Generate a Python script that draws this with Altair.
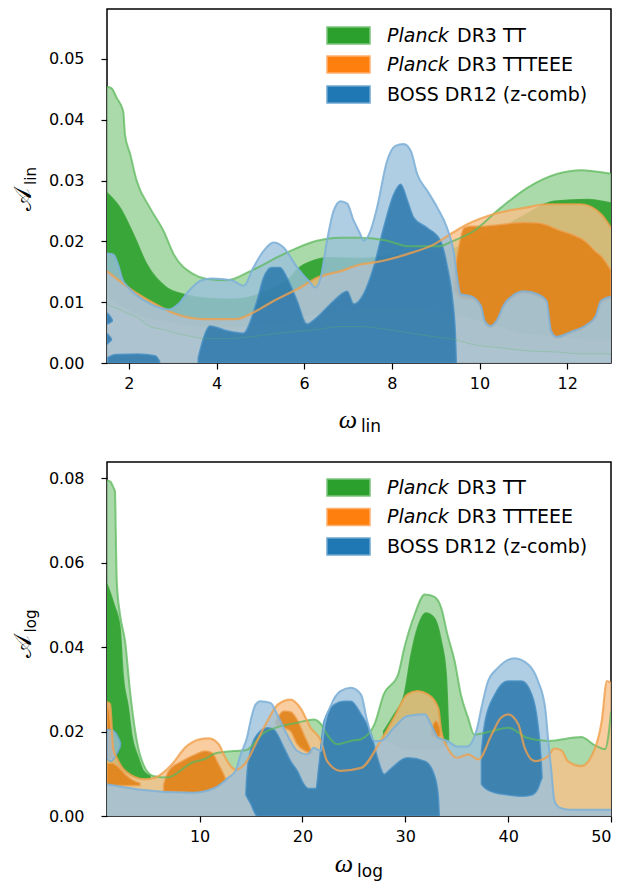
import altair as alt
import pandas as pd

# ================= TOP PANEL: A_lin vs omega_lin =================
# Planck DR3 TT (green) outer contour
lin_g2_x = [1.5, 1.6, 1.72, 1.87, 1.91, 2.03, 2.18, 2.48, 2.79, 3.02, 3.47, 3.78, 4.24, 4.77, 5.53, 6.29, 6.83, 7.28, 7.9, 8.36, 9.1, 9.34, 9.87, 10.48, 11.09, 11.78, 12.31, 13.0]
lin_g2_hi = [0.0454, 0.0452, 0.0436, 0.0414, 0.0376, 0.0343, 0.0299, 0.0255, 0.0217, 0.0179, 0.0146, 0.0138, 0.0136, 0.0151, 0.0179, 0.0201, 0.0206, 0.0206, 0.0201, 0.0192, 0.0192, 0.0199, 0.0217, 0.0255, 0.0288, 0.0311, 0.0317, 0.0311]
lin_g2_lo = [0.0097, 0.0093, 0.009, 0.0085, 0.0083, 0.008, 0.0075, 0.006, 0.0055, 0.005, 0.0043, 0.004, 0.004, 0.0043, 0.005, 0.0055, 0.006, 0.006, 0.0055, 0.005, 0.0042, 0.004, 0.003, 0.0025, 0.002, 0.0018, 0.0015, 0.0015]
# green inner contour
lin_g1_x = [1.5, 1.8, 2.1, 2.41, 2.86, 3.24, 3.8, 4.38, 5.15, 5.6, 5.91, 6.2, 6.52, 7.28, 8.0, 8.8, 9.5, 10.0, 10.5, 11.0, 11.7, 12.47, 13.0]
lin_g1_hi = [0.028, 0.0255, 0.0212, 0.0162, 0.0124, 0.0113, 0.0106, 0.0105, 0.0118, 0.0135, 0.0158, 0.0168, 0.0173, 0.0172, 0.0176, 0.0182, 0.019, 0.0205, 0.0222, 0.0242, 0.0266, 0.0269, 0.0263]
lin_g1_lo = [0.011, 0.0095, 0.0085, 0.0075, 0.007, 0.0065, 0.006, 0.006, 0.0065, 0.007, 0.0075, 0.008, 0.0085, 0.009, 0.009, 0.009, 0.008, 0.007, 0.006, 0.005, 0.0045, 0.004, 0.004]
# Planck DR3 TTTEEE (orange) outer contour
lin_o2_x = [1.5, 1.99, 2.6, 2.98, 3.74, 4.43, 4.84, 5.3, 5.91, 6.29, 6.83, 7.28, 7.58, 8.35, 8.96, 9.34, 9.72, 10.33, 11.02, 11.55, 12.31, 12.77, 13.0]
lin_o2_hi = [0.0151, 0.0124, 0.0097, 0.0083, 0.0072, 0.0072, 0.0083, 0.0102, 0.0124, 0.014, 0.0151, 0.0162, 0.0165, 0.0179, 0.0195, 0.0212, 0.0228, 0.0245, 0.0255, 0.0261, 0.0261, 0.0245, 0.0222]
# orange inner contour
lin_o1_x = [9.42, 9.5, 9.65, 9.8, 10.03, 10.12, 10.25, 10.41, 10.55, 10.78, 11.01, 11.33, 11.53, 11.63, 11.76, 12.08, 12.43, 12.65, 12.77, 13.0]
lin_o1_hi = [0.014, 0.018, 0.0222, 0.0225, 0.0225, 0.0225, 0.0226, 0.0227, 0.0228, 0.023, 0.0231, 0.023, 0.0227, 0.0224, 0.022, 0.0212, 0.0199, 0.0183, 0.0176, 0.0152]
lin_o1_lo = [0.012, 0.011, 0.0105, 0.0105, 0.009, 0.0065, 0.0058, 0.0068, 0.009, 0.0108, 0.0114, 0.0109, 0.0098, 0.005, 0.004, 0.0048, 0.0059, 0.0074, 0.0098, 0.0105]
# BOSS DR12 (blue) outer contour
lin_b2_x = [1.5, 1.65, 1.76, 1.85, 1.99, 2.37, 2.9, 3.13, 3.36, 3.66, 3.89, 4.35, 4.62, 4.84, 5.07, 5.3, 5.53, 5.84, 6.14, 6.25, 6.37, 6.52, 6.67, 6.83, 6.98, 7.13, 7.28, 7.35, 7.51, 7.66, 7.89, 8.08, 8.27, 8.43, 8.58, 8.81, 9.04, 9.26, 9.42, 9.49, 9.57, 9.8, 10.03, 10.12, 10.25, 10.41, 10.55, 10.78, 11.01, 11.33, 11.53, 11.63, 11.76, 12.08, 12.43, 12.65, 12.77, 13.0]
lin_b2_hi = [0.018, 0.0178, 0.016, 0.0138, 0.0124, 0.0102, 0.0088, 0.0097, 0.0118, 0.0136, 0.0139, 0.0136, 0.0127, 0.0157, 0.0184, 0.0198, 0.019, 0.0157, 0.0132, 0.0124, 0.0139, 0.0201, 0.025, 0.0266, 0.0262, 0.0234, 0.0212, 0.0201, 0.0217, 0.0255, 0.0332, 0.0357, 0.036, 0.0349, 0.031, 0.0283, 0.0255, 0.0222, 0.0179, 0.014, 0.0113, 0.011, 0.0094, 0.0069, 0.0061, 0.0072, 0.0095, 0.0112, 0.0118, 0.0113, 0.0102, 0.0053, 0.0043, 0.0051, 0.0062, 0.0077, 0.0102, 0.0109]
# blue inner contour (main region and small islands)
lin_b1_x = [3.58, 3.63, 3.85, 4.24, 4.61, 4.92, 5.07, 5.25, 5.45, 5.61, 5.84, 6.06, 6.29, 6.67, 6.98, 7.13, 7.35, 7.58, 7.81, 8.04, 8.2, 8.36, 8.5, 8.81, 9.11, 9.27, 9.39, 9.45, 9.47]
lin_b1_hi = [0.0008, 0.0023, 0.0061, 0.0053, 0.0049, 0.0102, 0.014, 0.0157, 0.0157, 0.014, 0.0102, 0.0064, 0.0075, 0.0102, 0.0118, 0.0097, 0.0113, 0.0157, 0.0222, 0.0277, 0.0294, 0.0266, 0.0239, 0.0222, 0.0201, 0.0157, 0.0102, 0.0047, 0.0005]
lin_b1a_x = [1.52, 1.7, 2.2, 2.6, 2.7]
lin_b1a_hi = [0.0009, 0.0014, 0.0015, 0.0012, 0.0003]
lin_b1b_x = [1.5, 1.56, 1.62]
lin_b1b_hi = [0.0082, 0.0078, 0.0071]
lin_b1b_lo = [0.0064, 0.0066, 0.0069]
lin_b1c_x = [1.5, 1.55, 1.6]
lin_b1c_hi = [0.0048, 0.0045, 0.0040]
lin_b1c_lo = [0.0031, 0.0034, 0.0038]

# ================= BOTTOM PANEL: A_log vs omega_log =================
log_g2_x = [1.0, 1.3, 1.6, 1.78, 1.85, 1.95, 2.27, 2.76, 3.24, 3.9, 4.54, 5.5, 6.8, 9.4, 10.5, 11.5, 13.3, 14.5, 16.25, 17.9, 19.5, 21.1, 21.8, 22.4, 23.4, 24.7, 25.7, 27.0, 27.9, 29.3, 29.9, 30.9, 31.9, 32.8, 33.5, 34.1, 34.8, 35.4, 36.1, 36.7, 38.4, 40.0, 41.9, 43.9, 47.1, 48.4, 49.4, 49.8, 50.0]
log_g2_hi = [0.0795, 0.0793, 0.078, 0.0769, 0.068, 0.0556, 0.0477, 0.0414, 0.0296, 0.0178, 0.0122, 0.0095, 0.0091, 0.0128, 0.0135, 0.0148, 0.0154, 0.0156, 0.0197, 0.0213, 0.0221, 0.0229, 0.0218, 0.0193, 0.017, 0.0178, 0.0182, 0.0217, 0.0288, 0.0335, 0.0398, 0.0477, 0.0525, 0.052, 0.0493, 0.043, 0.0367, 0.0288, 0.0233, 0.0193, 0.0201, 0.0209, 0.0185, 0.0178, 0.0187, 0.0168, 0.0158, 0.02, 0.0248]
log_g1a_x = [1.0, 1.3, 1.7, 2.27, 2.56, 3.08, 3.4, 4.05, 4.54, 5.2]
log_g1a_hi = [0.055, 0.053, 0.05, 0.0446, 0.0336, 0.0256, 0.0193, 0.0138, 0.0107, 0.0095]
log_g1a_lo = [0.011, 0.011, 0.011, 0.011, 0.0105, 0.01, 0.0095, 0.009, 0.009, 0.009]
log_g1b_x = [27.9, 28.9, 29.9, 30.56, 31.2, 32.0, 32.8, 33.5, 33.98, 34.2]
log_g1b_hi = [0.0201, 0.024, 0.0288, 0.0382, 0.0446, 0.0481, 0.047, 0.0414, 0.0335, 0.02]
log_g1b_lo = [0.018, 0.017, 0.016, 0.016, 0.016, 0.016, 0.016, 0.016, 0.017, 0.018]
log_o2_x = [1.0, 1.3, 1.6, 2.0, 2.76, 4.7, 5.7, 7.3, 8.6, 9.9, 10.9, 11.86, 12.5, 13.5, 14.6, 15.6, 16.6, 17.6, 18.85, 19.8, 20.8, 21.8, 22.4, 23.7, 25.7, 27.6, 28.9, 30.2, 31.2, 32.2, 33.2, 33.5, 34.1, 35.1, 36.1, 37.1, 38.4, 39.3, 40.0, 41.0, 41.6, 42.6, 43.8, 44.5, 45.2, 45.8, 47.1, 48.4, 49.1, 49.6, 50.0]
log_o2_hi = [0.027, 0.0265, 0.016, 0.0135, 0.0107, 0.0087, 0.0091, 0.0122, 0.0162, 0.0181, 0.0184, 0.017, 0.0138, 0.011, 0.013, 0.0178, 0.0225, 0.0264, 0.0276, 0.0256, 0.0209, 0.0178, 0.013, 0.0107, 0.0114, 0.0178, 0.0233, 0.0288, 0.0296, 0.0288, 0.0256, 0.0201, 0.0162, 0.0138, 0.0146, 0.0134, 0.0193, 0.0233, 0.0241, 0.0217, 0.0162, 0.013, 0.014, 0.016, 0.0155, 0.013, 0.0118, 0.0158, 0.0225, 0.032, 0.0316]
log_o1a_x = [1.0, 1.2, 1.45, 1.6]
log_o1a_hi = [0.0265, 0.025, 0.019, 0.0145]
log_o1a_lo = [0.0135, 0.0135, 0.0135, 0.0135]
log_o1b_x = [1.0, 1.5, 2.0, 2.8, 3.5, 4.2]
log_o1b_hi = [0.0125, 0.0125, 0.0118, 0.0098, 0.0085, 0.0078]
log_o1b_lo = [0.0072, 0.0072, 0.0072, 0.0072, 0.0072, 0.0072]
log_o1c_x = [6.5, 7.0, 8.3, 9.6, 10.56, 11.2, 11.86, 12.35, 12.6]
log_o1c_hi = [0.0075, 0.0107, 0.013, 0.0146, 0.0154, 0.015, 0.0122, 0.0099, 0.0085]
log_o1c_lo = [0.0058, 0.0058, 0.0056, 0.0055, 0.0058, 0.0062, 0.007, 0.008, 0.0084]
log_o1d_x = [17.4, 18.2, 18.85, 19.5, 20.2, 20.96]
log_o1d_hi = [0.0225, 0.0249, 0.0247, 0.0228, 0.019, 0.015]
log_o1d_lo = [0.0215, 0.0209, 0.0201, 0.017, 0.0155, 0.0148]
log_o1e_x = [32.5, 33.0, 33.4]
log_o1e_hi = [0.0205, 0.0225, 0.0205]
log_o1e_lo = [0.019, 0.0185, 0.019]
log_b2_x = [1.0, 4.05, 9.3, 11.5, 12.8, 13.5, 14.0, 14.6, 15.1, 15.44, 15.9, 16.9, 17.56, 18.5, 19.5, 20.5, 21.1, 21.8, 22.1, 22.8, 23.7, 24.7, 25.7, 26.3, 27.0, 27.6, 28.9, 30.2, 31.9, 32.5, 33.2, 34.1, 35.0, 36.0, 37.0, 37.4, 38.05, 39.0, 40.6, 41.96, 42.9, 43.6, 43.9, 44.2, 44.5, 45.0, 46.0, 50.0]
log_b2_hi = [0.0075, 0.0063, 0.0055, 0.0067, 0.0091, 0.0107, 0.0146, 0.0185, 0.024, 0.0264, 0.0272, 0.0268, 0.024, 0.0193, 0.0154, 0.0146, 0.0162, 0.0154, 0.0209, 0.0264, 0.0296, 0.0304, 0.0288, 0.0225, 0.0178, 0.0178, 0.0209, 0.0237, 0.0241, 0.0217, 0.0185, 0.0178, 0.0165, 0.0165, 0.021, 0.0256, 0.032, 0.0351, 0.0374, 0.0359, 0.032, 0.0256, 0.0178, 0.0107, 0.0036, 0.002, 0.0015, 0.0015]
log_b2a_x = [1.0, 1.4, 1.9, 2.3]
log_b2a_hi = [0.0205, 0.0205, 0.0195, 0.0175]
log_b2a_lo = [0.0135, 0.013, 0.0145, 0.0165]
log_b1a_x = [14.5, 14.6, 14.95, 15.6, 16.6, 17.2, 18.2, 18.85, 19.5, 20.15, 20.6, 21.3, 21.6, 22.1, 23.1, 24.0, 24.7, 25.7, 26.7, 27.3, 27.96, 28.5, 30.2, 31.9, 32.8, 33.2, 33.3]
log_b1a_hi = [0.0055, 0.0099, 0.0154, 0.0193, 0.0209, 0.0205, 0.0162, 0.013, 0.0107, 0.0075, 0.0065, 0.0065, 0.012, 0.0225, 0.0264, 0.0272, 0.0272, 0.0241, 0.0193, 0.0138, 0.0099, 0.011, 0.0138, 0.013, 0.0099, 0.0051, 0.0005]
log_b1a_lo = [0.005, 0.0045, 0.003, 0.0, 0.0, 0.0, 0.0, 0.0, 0.0, 0.0, 0.0, 0.0, 0.0, 0.0, 0.0, 0.0, 0.0, 0.0, 0.0, 0.0, 0.0, 0.0, 0.0, 0.0, 0.0, 0.0, 0.0]
log_b1b_x = [37.4, 37.7, 38.7, 40.0, 41.3, 42.3, 42.9, 43.2, 43.3]
log_b1b_hi = [0.0154, 0.0217, 0.0288, 0.032, 0.032, 0.0288, 0.0217, 0.0138, 0.0092]
log_b1b_lo = [0.0075, 0.0067, 0.0055, 0.005, 0.0047, 0.005, 0.0065, 0.0085, 0.009]

legend_labels = ["DR3 TT", "DR3 TTTEEE", "BOSS DR12 (z-comb)"]
legend_italic = ["Planck", "Planck", ""]

# ---------------- styling ----------------
FONT = "DejaVu Sans"
STY = {
    "g2": dict(fill="#95d195", op=0.8, stroke="#6cbf6c"),
    "g1": dict(fill="#2ca02c", op=0.9, stroke="#3aa63a"),
    "o2": dict(fill="#f9c088", op=0.8, stroke="#f5a458"),
    "o1": dict(fill="#e0821a", op=0.92, stroke="#eda050"),
    "b2": dict(fill="#9bc0dc", op=0.8, stroke="#6fa6d0"),
    "b1": dict(fill="#1f6fa8", op=0.78, stroke="#4a92c6"),
}
PATCH = [("#2ca02c", "#7cc47c"), ("#ff7f0e", "#ffb070"), ("#1f77b4", "#6fa6d0")]

W, H = 504, 354


def band(x, hi, lo, key, xs, ys, axx, axy, sw=1.5):
    s = STY[key]
    if lo is None:
        lo = [0.0] * len(x)
    df = pd.DataFrame({"x": x, "hi": hi, "lo": lo})
    return alt.Chart(df).mark_area(
        interpolate="monotone", fill=s["fill"], fillOpacity=s["op"],
        stroke=s["stroke"], strokeWidth=sw, strokeOpacity=0.85, clip=True
    ).encode(
        x=alt.X("x:Q", scale=xs, axis=axx, title=None),
        y=alt.Y("hi:Q", scale=ys, axis=axy, title=None),
        y2=alt.Y2("lo:Q"),
    )


def edge(x, y, color, xs, ys, axx, axy, width=2.0, opacity=0.75):
    df = pd.DataFrame({"x": x, "y": y})
    return alt.Chart(df).mark_line(
        interpolate="monotone", color=color, strokeWidth=width, opacity=opacity, clip=True
    ).encode(
        x=alt.X("x:Q", scale=xs, axis=axx, title=None),
        y=alt.Y("y:Q", scale=ys, axis=axy, title=None),
    )


def txt(s, x, y, size, italic=False, angle=0, align="left", font=FONT):
    return alt.Chart(pd.DataFrame({"t": [s]})).mark_text(
        font=font, fontSize=size, fontStyle="italic" if italic else "normal",
        align=align, baseline="middle", angle=angle, color="black"
    ).encode(x=alt.value(x), y=alt.value(y), text="t:N")


def legend_layers(yc):
    out = []
    for i in range(3):
        fill, edge_c = PATCH[i]
        out.append(alt.Chart(pd.DataFrame({"k": [i]})).mark_rect(
            fill=fill, stroke=edge_c, strokeWidth=1.5
        ).encode(x=alt.value(220), x2=alt.value(263), y=alt.value(yc[i] - 8.5), y2=alt.value(yc[i] + 8.5)))
        if legend_italic[i]:
            out.append(txt(legend_italic[i], 280, yc[i], 19, italic=True))
            out.append(txt(legend_labels[i], 350, yc[i], 19))
        else:
            out.append(txt(legend_labels[i], 280, yc[i], 19))
    return out


GREEN_LINE = "#5cb85c"
ORANGE_LINE = "#f0a04c"
BLUE_LINE = "#7fb1d8"

# ---------------- top panel ----------------
xs1 = alt.Scale(domain=[1.5, 13], nice=False, zero=False)
ys1 = alt.Scale(domain=[0, 0.0582], nice=False)
ax1x = alt.Axis(values=[2, 4, 6, 8, 10, 12], format="d")
ax1y = alt.Axis(values=[0, 0.01, 0.02, 0.03, 0.04, 0.05], format=".2f")


def b1(x, hi, lo, key, sw=1.5):
    return band(x, hi, lo, key, xs1, ys1, ax1x, ax1y, sw)


def e1(x, y, color, width=2.0, opacity=0.75):
    return edge(x, y, color, xs1, ys1, ax1x, ax1y, width, opacity)


top_layers = [
    b1(lin_g2_x, lin_g2_hi, lin_g2_lo, "g2", 0),
    b1(lin_g1_x, lin_g1_hi, lin_g1_lo, "g1"),
    b1(lin_o2_x, lin_o2_hi, None, "o2", 0),
    b1(lin_o1_x, lin_o1_hi, lin_o1_lo, "o1"),
    b1(lin_b2_x, lin_b2_hi, None, "b2", 0),
    b1(lin_b1_x, lin_b1_hi, None, "b1"),
    b1(lin_b1a_x, lin_b1a_hi, None, "b1"),
    b1(lin_b1b_x, lin_b1b_hi, lin_b1b_lo, "b1"),
    b1(lin_b1c_x, lin_b1c_hi, lin_b1c_lo, "b1"),
    e1(lin_g2_x, lin_g2_lo, GREEN_LINE, 1.0, 0.3),
    e1(lin_g2_x, lin_g2_hi, GREEN_LINE),
    e1(lin_o2_x, lin_o2_hi, ORANGE_LINE, 2.2, 0.8),
    e1(lin_b2_x, lin_b2_hi, BLUE_LINE, 2.0, 0.9),
] + legend_layers([26.5, 55.5, 85.5]) + [
    txt("\U0001D49C", -83, 190, 24, angle=270, align="center"),
    txt("lin", -76, 167, 15, angle=270, align="center"),
    txt("\u03c9", 241, 411, 26, italic=True, align="center", font="Liberation Serif"),
    txt("lin", 264, 418, 17, align="center"),
]
top = alt.layer(*top_layers).properties(width=W, height=H)

# ---------------- bottom panel ----------------
xs2 = alt.Scale(domain=[1, 50], nice=False, zero=False)
ys2 = alt.Scale(domain=[0, 0.0839], nice=False)
ax2x = alt.Axis(values=[10, 20, 30, 40, 50], format="d")
ax2y = alt.Axis(values=[0, 0.02, 0.04, 0.06, 0.08], format=".2f")


def b2(x, hi, lo, key, sw=1.5):
    return band(x, hi, lo, key, xs2, ys2, ax2x, ax2y, sw)


def e2(x, y, color, width=2.0, opacity=0.75):
    return edge(x, y, color, xs2, ys2, ax2x, ax2y, width, opacity)


bot_layers = [
    b2(log_g2_x, log_g2_hi, None, "g2", 0),
    b2(log_g1a_x, log_g1a_hi, log_g1a_lo, "g1"),
    b2(log_g1b_x, log_g1b_hi, log_g1b_lo, "g1"),
    b2(log_o2_x, log_o2_hi, None, "o2", 0),
    b2(log_o1a_x, log_o1a_hi, log_o1a_lo, "o1"),
    b2(log_o1b_x, log_o1b_hi, log_o1b_lo, "o1"),
    b2(log_o1c_x, log_o1c_hi, log_o1c_lo, "o1"),
    b2(log_o1d_x, log_o1d_hi, log_o1d_lo, "o1"),
    b2(log_o1e_x, log_o1e_hi, log_o1e_lo, "o1"),
    b2(log_b2_x, log_b2_hi, None, "b2", 0),
    b2(log_b2a_x, log_b2a_hi, log_b2a_lo, "b2"),
    b2(log_b1a_x, log_b1a_hi, log_b1a_lo, "b1"),
    b2(log_b1b_x, log_b1b_hi, log_b1b_lo, "b1"),
    e2(log_g2_x, log_g2_hi, GREEN_LINE),
    e2(log_o2_x, log_o2_hi, ORANGE_LINE, 2.2, 0.8),
    e2(log_b2_x, log_b2_hi, BLUE_LINE, 2.0, 0.9),
] + legend_layers([25.5, 55, 84.5]) + [
    txt("\U0001D49C", -83, 184, 24, angle=270, align="center"),
    txt("log", -76, 159, 15, angle=270, align="center"),
    txt("\u03c9", 237, 402, 26, italic=True, align="center", font="Liberation Serif"),
    txt("log", 263, 410, 17, align="center"),
]
bottom = alt.layer(*bot_layers).properties(width=W, height=H)

chart = alt.vconcat(top, bottom, spacing=99, bounds="flush").properties(
    padding={"left": 3, "top": 0, "right": 5, "bottom": 5}
).configure_view(
    stroke="black", strokeWidth=1.5
).configure_axis(
    domain=False, grid=False, tickColor="black", tickWidth=1.2, tickSize=6,
    labelFont=FONT, labelFontSize=16, labelColor="black"
).configure_axisX(
    labelPadding=6
).configure_axisY(
    labelPadding=17
)

chart.save("out.html", embed_options={"renderer": "svg", "actions": False})
